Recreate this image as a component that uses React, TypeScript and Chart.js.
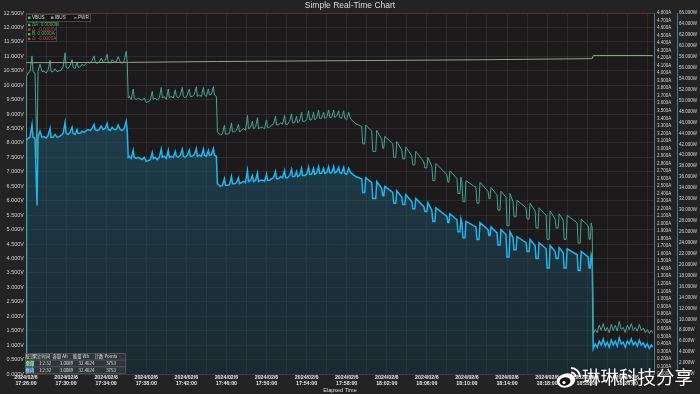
import { useEffect, useRef } from "react";
import { Chart, registerables } from "chart.js";

Chart.register(...registerables);

// ---------- text ----------
const CHART_TITLE = "Simple Real-Time Chart";
const X_TITLE = "Elapsed Time";
const DATE_LABEL = "2024/02/6";
const START_SECONDS = 17 * 3600 + 26 * 60; // 17:26:00
const SERIES_NAMES = ["VBUS", "IBUS", "PWR"];
const CURSOR_TEXTS = ["ΔA: 0.0000W", "Δ: -0.0000V", "B: 0.0000A", "Δ: -0.0000A"];
const STATS_HEADER = ["统计", "累计时间", "容量 Ah", "能量 Wh", "计数 Points"];
const STATS_ROWS = [
  ["全部", "1:2:32", "3.0089", "32.4624", "3753"],
  ["框内", "1:2:32", "3.0089", "32.4624", "3753"],
];
const WATERMARK = "琳琳科技分享";

// ---------- axes ----------
const X_MAX = 3760;
const X_GRID_STEP = 120;
const X_LABEL_STEP = 240;
const V_MAX = 12.5;
const V_STEP = 0.5;
const I_MAX = 4.8;
const I_STEP = 0.1;
const P_MAX = 66;
const P_STEP = 2;

// ---------- data (seconds since 17:26:00) ----------
const TIMES = [
  0, 3, 12, 24, 36, 42, 54, 66, 72, 84, 96, 108, 120, 132, 144, 150, 162, 174, 186, 198, 210, 222, 234, 240, 252, 264, 276, 282, 294, 306, 312, 324, 336, 348, 360, 372, 384, 396, 408, 414, 426, 438, 450, 462, 474, 486, 492, 504, 516, 528, 540, 552, 564, 576, 588, 600, 606,
  612, 618, 630, 642, 648, 660, 672, 684, 696, 708, 720, 732, 744, 756, 762, 774, 786, 798, 810, 816, 828, 840, 852, 858, 870, 882, 894, 900, 912, 924, 936, 942, 954, 966, 978, 984, 996, 1008, 1020, 1026, 1038, 1050, 1062, 1068, 1080, 1092, 1098, 1110, 1122, 1128, 1140,
  1146, 1152, 1164, 1176, 1188, 1194, 1206, 1218, 1230, 1236, 1248, 1260, 1272, 1278, 1290, 1302, 1314, 1326, 1332, 1344, 1356, 1362, 1374, 1386, 1392, 1404, 1416, 1428, 1440, 1446, 1458, 1470, 1482, 1494, 1500, 1512, 1524, 1536, 1548, 1554, 1566, 1578, 1590, 1596, 1608, 1620, 1626, 1638, 1650, 1656, 1668, 1680, 1692, 1698, 1710, 1722, 1728, 1740, 1752, 1758, 1770, 1782, 1788, 1800, 1812, 1818, 1830, 1842, 1848, 1860, 1872, 1878, 1890, 1902, 1908, 1920, 1932,
  1944, 1974, 2010, 2016, 2028, 2034, 2070, 2076, 2094, 2100, 2130, 2136, 2142, 2148, 2196, 2202, 2214, 2220, 2250, 2256, 2268, 2274, 2310, 2316, 2328, 2334, 2382, 2388, 2400, 2406, 2430, 2436, 2448, 2454, 2520, 2526, 2532, 2538, 2580, 2586, 2598, 2604, 2610, 2616, 2628, 2634, 2694, 2700, 2712, 2718, 2766, 2772, 2778, 2784, 2820, 2826, 2838, 2844, 2874, 2880, 2892, 2898, 2916, 2922, 2934, 2940, 2994, 3000, 3012, 3018, 3048, 3054, 3066, 3072, 3114, 3120, 3132, 3138, 3168, 3174, 3186, 3192, 3216, 3222, 3234, 3240, 3300, 3306, 3318, 3324, 3366, 3372, 3378, 3384, 3390,
  3396, 3408, 3420, 3432, 3444, 3456, 3468, 3480, 3492, 3504, 3516, 3528, 3540, 3552, 3564, 3576, 3588, 3600, 3612, 3624, 3636, 3648, 3660, 3672, 3684, 3696, 3708, 3720, 3732, 3744, 3752,
];

const PWR = [
  0, 42.7, 43.1, 43.3, 45.6, 43.3, 43.1, 30.8, 43.3, 44.4, 43.3, 43.4, 43.1, 43.6, 44.9, 43.3, 43.3, 43.8, 43.3, 43.4, 43.6, 44.0, 46.0, 44.0, 43.8, 44.2, 45.1, 44.0, 43.8, 44.7, 44.0, 44.0, 44.4, 44.2, 44.5, 44.7, 44.5, 44.9, 45.6, 44.7, 44.5, 44.7, 45.3, 44.7, 44.9, 45.8, 44.7, 44.5, 45.1, 44.7, 44.7, 45.5, 44.7, 44.5, 44.9, 46.2, 44.7,
  39.6, 39.8, 39.4, 40.9, 39.6, 39.4, 39.6, 39.4, 39.2, 39.6, 38.9, 39.0, 39.2, 40.5, 39.4, 39.6, 39.2, 39.6, 41.1, 39.6, 39.8, 39.4, 40.9, 39.6, 39.8, 39.6, 40.7, 39.8, 39.6, 40.0, 41.1, 39.8, 39.6, 40.0, 40.9, 39.8, 39.8, 40.1, 41.2, 39.8, 40.0, 39.8, 41.1, 40.0, 39.8, 40.9, 40.0, 40.1, 41.2, 40.0, 39.8,
  34.8, 34.6, 34.3, 34.5, 35.7, 34.5, 34.5, 34.6, 36.1, 34.8, 34.8, 35.0, 35.9, 34.8, 35.0, 35.2, 35.0, 37.2, 35.2, 35.4, 36.3, 35.2, 35.4, 36.8, 35.2, 35.4, 35.4, 35.2, 36.5, 35.4, 35.4, 35.7, 35.9, 37.0, 35.7, 35.7, 36.1, 35.9, 37.2, 35.9, 35.9, 36.3, 37.4, 36.1, 36.1, 37.0, 36.1, 36.3, 37.6, 36.3, 36.3, 36.5, 37.8, 36.5, 36.5, 37.6, 36.5, 36.7, 37.9, 36.7, 36.7, 37.6, 36.7, 36.8, 37.9, 36.8, 36.8, 37.9, 36.8, 37.0, 37.8, 36.8, 36.7, 37.8, 36.7, 36.5, 37.6,
  36.8, 36.1, 35.7, 33.2, 33.2, 35.9, 35.0, 32.1, 32.1, 35.2, 33.9, 32.6, 32.6, 34.3, 33.2, 31.2, 31.2, 33.5, 32.3, 31.0, 31.0, 32.8, 31.5, 30.2, 30.2, 32.1, 30.6, 29.7, 29.7, 31.3, 29.9, 27.9, 27.9, 30.4, 28.8, 27.7, 27.7, 29.3, 28.2, 26.0, 26.0, 28.4, 27.7, 24.9, 24.9, 27.9, 26.9, 24.6, 24.6, 27.7, 26.4, 25.3, 25.3, 26.9, 25.8, 23.6, 23.6, 26.4, 25.5, 21.4, 21.4, 26.0, 24.9, 22.7, 22.7, 25.1, 24.0, 22.4, 22.4, 24.6, 23.5, 21.1, 21.1, 24.0, 22.9, 19.4, 19.4, 23.5, 22.4, 21.1, 21.1, 23.1, 22.2, 19.4, 19.4, 22.9, 21.8, 18.9, 18.9, 22.4, 21.4, 19.4, 19.4, 21.8, 21.1,
  4.6, 5.5, 4.9, 6.0, 5.3, 6.4, 5.1, 5.8, 4.9, 6.2, 5.3, 6.0, 5.1, 6.6, 5.5, 5.8, 4.9, 6.0, 5.5, 6.4, 5.3, 5.8, 5.1, 6.2, 5.3, 5.7, 4.9, 5.5, 4.7, 5.3, 4.9,
];

const IBUS = [
  0, 3.96, 4.00, 4.02, 4.23, 4.02, 4.00, 2.86, 4.02, 4.12, 4.02, 4.03, 4.00, 4.04, 4.17, 4.02, 4.02, 4.06, 4.02, 4.03, 4.04, 4.08, 4.27, 4.08, 4.06, 4.10, 4.18, 4.08, 4.06, 4.15, 4.08, 4.08, 4.12, 4.10, 4.13, 4.15, 4.13, 4.17, 4.23, 4.15, 4.13, 4.15, 4.20, 4.15, 4.17, 4.25, 4.15, 4.13, 4.18, 4.15, 4.15, 4.22, 4.15, 4.13, 4.17, 4.29, 4.15,
  3.67, 3.69, 3.65, 3.79, 3.67, 3.65, 3.67, 3.65, 3.64, 3.67, 3.61, 3.62, 3.64, 3.76, 3.65, 3.67, 3.64, 3.67, 3.81, 3.67, 3.69, 3.65, 3.79, 3.67, 3.69, 3.67, 3.78, 3.69, 3.67, 3.71, 3.81, 3.69, 3.67, 3.71, 3.79, 3.69, 3.69, 3.72, 3.82, 3.69, 3.71, 3.69, 3.81, 3.71, 3.69, 3.79, 3.71, 3.72, 3.82, 3.71, 3.69,
  3.22, 3.20, 3.18, 3.19, 3.31, 3.19, 3.19, 3.20, 3.34, 3.22, 3.22, 3.24, 3.32, 3.22, 3.24, 3.26, 3.24, 3.44, 3.26, 3.28, 3.36, 3.26, 3.28, 3.41, 3.26, 3.28, 3.28, 3.26, 3.38, 3.28, 3.28, 3.31, 3.32, 3.43, 3.31, 3.31, 3.34, 3.32, 3.44, 3.32, 3.32, 3.36, 3.46, 3.34, 3.34, 3.43, 3.34, 3.36, 3.48, 3.36, 3.36, 3.38, 3.50, 3.38, 3.38, 3.48, 3.38, 3.40, 3.51, 3.40, 3.40, 3.48, 3.40, 3.41, 3.51, 3.41, 3.41, 3.51, 3.41, 3.43, 3.50, 3.41, 3.40, 3.50, 3.40, 3.38, 3.48,
  3.39, 3.33, 3.29, 3.06, 3.06, 3.31, 3.23, 2.96, 2.96, 3.24, 3.12, 3.00, 3.00, 3.16, 3.06, 2.88, 2.88, 3.09, 2.98, 2.86, 2.86, 3.02, 2.90, 2.78, 2.78, 2.96, 2.82, 2.74, 2.74, 2.88, 2.76, 2.57, 2.57, 2.80, 2.65, 2.55, 2.55, 2.70, 2.60, 2.40, 2.40, 2.62, 2.55, 2.29, 2.29, 2.57, 2.48, 2.27, 2.27, 2.55, 2.43, 2.33, 2.33, 2.48, 2.38, 2.18, 2.18, 2.43, 2.35, 1.97, 1.97, 2.40, 2.29, 2.09, 2.09, 2.31, 2.21, 2.06, 2.06, 2.27, 2.17, 1.94, 1.94, 2.21, 2.11, 1.79, 1.79, 2.17, 2.06, 1.94, 1.94, 2.13, 2.05, 1.79, 1.79, 2.11, 2.01, 1.74, 1.74, 2.06, 1.97, 1.79, 1.79, 2.01, 1.94,
  0.53, 0.59, 0.55, 0.65, 0.58, 0.67, 0.57, 0.62, 0.55, 0.66, 0.58, 0.65, 0.57, 0.70, 0.59, 0.62, 0.55, 0.65, 0.59, 0.67, 0.58, 0.62, 0.57, 0.66, 0.58, 0.61, 0.55, 0.59, 0.54, 0.58, 0.55,
];

const VBUS_TIMES = [0, 612, 1146, 1944, 2700, 3390, 3396, 3752];
const VBUS = [10.78, 10.79, 10.82, 10.85, 10.88, 10.92, 11.03, 11.03];

// ---------- styles ----------
const OUTER_BG = "#232323";
const PLOT_BG = "#1c1a1a";
const GRID = "rgba(255,255,255,0.075)";
const TICK_COLOR = "#d2d2d2";
const VBUS_COLOR = "#8ea58c";
const IBUS_COLOR = "#46a391";
const PWR_COLOR = "#1fb6f0";
const FONT = "'Liberation Sans', Arial, sans-serif";
const CJK = "'Noto Sans CJK SC', sans-serif";

const pad2 = (n: number) => (n < 10 ? "0" + n : "" + n);
const clock = (s: number) => {
  const t = START_SECONDS + Math.round(s);
  return `${pad2(Math.floor(t / 3600) % 24)}:${pad2(Math.floor(t / 60) % 60)}:${pad2(t % 60)}`;
};

const overlayPlugin = {
  id: "overlay",
  beforeDraw(chart: any) {
    const { ctx, chartArea: a, width, height } = chart;
    ctx.save();
    ctx.fillStyle = OUTER_BG;
    ctx.fillRect(0, 0, width, height);
    ctx.fillStyle = PLOT_BG;
    ctx.fillRect(a.left, a.top, a.right - a.left, a.bottom - a.top);
    ctx.restore();
  },
  afterDraw(chart: any) {
    const { ctx, chartArea: a } = chart;
    ctx.save();
    // top border
    ctx.strokeStyle = "#5a3232";
    ctx.lineWidth = 1;
    ctx.beginPath();
    ctx.moveTo(a.left, a.top + 0.5);
    ctx.lineTo(a.right, a.top + 0.5);
    ctx.stroke();

    // title
    ctx.fillStyle = "#dcdcdc";
    ctx.font = `8.5px ${FONT}`;
    ctx.textAlign = "center";
    ctx.textBaseline = "middle";
    ctx.fillText(CHART_TITLE, 350, 6);

    // series legend box
    ctx.fillStyle = "rgba(22,22,22,0.9)";
    ctx.fillRect(a.left, a.top + 1, 64, 7);
    ctx.strokeStyle = "#444";
    ctx.strokeRect(a.left + 0.5, a.top + 1.5, 64, 7);
    ctx.font = `4.6px ${FONT}`;
    ctx.textAlign = "left";
    const legendColors = ["#4fbf7a", "#8a9a8a", "#d8d8d8"];
    const legendX = [a.left + 2, a.left + 25, a.left + 48];
    SERIES_NAMES.forEach((name, i) => {
      ctx.fillStyle = legendColors[i];
      if (i < 2) ctx.fillRect(legendX[i], a.top + 3.5, 2.5, 2.5);
      else ctx.fillRect(legendX[i], a.top + 4.5, 2.5, 0.8);
      ctx.fillStyle = "#d8d8d8";
      ctx.fillText(name, legendX[i] + 4, a.top + 5);
    });

    // cursor readout box
    ctx.fillStyle = "rgba(22,22,22,0.9)";
    ctx.fillRect(a.left, a.top + 9, 30, 19);
    ctx.strokeStyle = "#444";
    ctx.strokeRect(a.left + 0.5, a.top + 9.5, 30, 19);
    const cursorColors = ["#3fbf6a", "#d04848", "#3fbf6a", "#d04848"];
    CURSOR_TEXTS.forEach((txt, i) => {
      const y = a.top + 12 + i * 4.6;
      ctx.fillStyle = cursorColors[i];
      ctx.fillRect(a.left + 2, y - 1.2, 2.4, 2.4);
      ctx.fillText(txt, a.left + 6, y);
    });

    // stats table
    const tx = 25, ty = 353, tw = 100, rh = 6.6;
    ctx.fillStyle = "rgba(50,56,58,0.88)";
    ctx.fillRect(tx, ty, tw, rh * 3);
    ctx.strokeStyle = "#6a6a6a";
    ctx.lineWidth = 0.6;
    ctx.strokeRect(tx + 0.5, ty + 0.5, tw, rh * 3);
    for (let r = 1; r < 3; r++) {
      ctx.beginPath();
      ctx.moveTo(tx, ty + r * rh + 0.5);
      ctx.lineTo(tx + tw, ty + r * rh + 0.5);
      ctx.stroke();
    }
    ctx.fillStyle = "#3e9a44";
    ctx.fillRect(tx + 1, ty + rh + 1, 8, rh - 1);
    ctx.fillStyle = "#2f72c0";
    ctx.fillRect(tx + 1, ty + 2 * rh + 1, 8, rh - 1);
    ctx.font = `4.4px ${CJK}`;
    ctx.textAlign = "center";
    const headX = [30, 41.5, 60, 81, 106];
    const valX = [30, 45, 66.5, 86.5, 111];
    ctx.fillStyle = "#e0e0e0";
    STATS_HEADER.forEach((h, i) => ctx.fillText(h, headX[i], ty + rh / 2 + 0.5));
    STATS_ROWS.forEach((row, r) => {
      row.forEach((v, i) => ctx.fillText(v, valX[i], ty + rh * (r + 1.5) + 0.5));
    });

    // watermark
    ctx.shadowColor = "rgba(0,0,0,0.6)";
    ctx.shadowBlur = 2;
    ctx.fillStyle = "#ffffff";
    ctx.beginPath();
    ctx.ellipse(566, 380.5, 9.5, 7, -0.25, 0, Math.PI * 2);
    ctx.fill();
    ctx.shadowBlur = 0;
    ctx.fillStyle = "#141414";
    ctx.beginPath();
    ctx.ellipse(565, 381.5, 5.5, 4.2, -0.25, 0, Math.PI * 2);
    ctx.fill();
    ctx.fillStyle = "#ffffff";
    ctx.beginPath();
    ctx.arc(564, 382.5, 1.6, 0, Math.PI * 2);
    ctx.fill();
    ctx.strokeStyle = "#ffffff";
    ctx.lineWidth = 2;
    ctx.beginPath();
    ctx.arc(571, 377, 9, -Math.PI / 2, 0);
    ctx.stroke();
    ctx.beginPath();
    ctx.arc(571, 377, 4.5, -Math.PI / 2, 0);
    ctx.stroke();
    ctx.shadowBlur = 2;
    ctx.font = `18.5px ${CJK}`;
    ctx.textAlign = "left";
    ctx.textBaseline = "alphabetic";
    ctx.fillText(WATERMARK, 582, 384);
    ctx.restore();
  },
};

export default function App() {
  const ref = useRef<HTMLCanvasElement>(null);
  useEffect(() => {
    document.body.style.margin = "0";
    document.body.style.background = OUTER_BG;
    const canvas = ref.current;
    if (!canvas) return;
    const fillGradient = (c: any) => {
      const chart = c.chart;
      const a = chart.chartArea;
      if (!a) return "rgba(30,80,100,0.5)";
      const g = chart.ctx.createLinearGradient(0, a.top, 0, a.bottom);
      g.addColorStop(0, "rgba(32,100,130,0.6)");
      g.addColorStop(1, "rgba(26,62,78,0.45)");
      return g;
    };
    const chart = new Chart(canvas, {
      type: "line",
      data: {
        datasets: [
          {
            label: SERIES_NAMES[0],
            data: VBUS_TIMES.map((t, i) => ({ x: t, y: VBUS[i] })),
            yAxisID: "y",
            borderColor: VBUS_COLOR,
            borderWidth: 1,
            pointRadius: 0,
            fill: false,
          },
          {
            label: SERIES_NAMES[1],
            data: TIMES.map((t, i) => ({ x: t, y: IBUS[i] })),
            yAxisID: "yI",
            borderColor: IBUS_COLOR,
            borderWidth: 1,
            pointRadius: 0,
            fill: false,
          },
          {
            label: SERIES_NAMES[2],
            data: TIMES.map((t, i) => ({ x: t, y: PWR[i] })),
            yAxisID: "yP",
            borderColor: PWR_COLOR,
            borderWidth: 1.5,
            pointRadius: 0,
            fill: "origin",
            backgroundColor: fillGradient,
          },
        ],
      },
      options: {
        animation: false,
        responsive: false,
        maintainAspectRatio: false,
        layout: { padding: { top: 13, left: 0, right: 0, bottom: 0 } },
        plugins: {
          legend: { display: false },
          title: { display: false },
          tooltip: { enabled: false },
        },
        elements: { line: { tension: 0 } },
        scales: {
          x: {
            type: "linear",
            position: "bottom",
            min: 0,
            max: X_MAX,
            grid: { color: GRID, drawTicks: false },
            border: { color: "#3a3a3a" },
            ticks: {
              stepSize: X_GRID_STEP,
              autoSkip: false,
              includeBounds: false,
              maxRotation: 0,
              padding: 1,
              color: "#e6e6e6",
              font: { family: FONT, size: 5.3, lineHeight: 1.1, weight: "bold" },
              callback: (v: any) =>
                Number(v) % X_LABEL_STEP === 0 ? [DATE_LABEL, clock(Number(v))] : "",
            },
            title: {
              display: true,
              text: X_TITLE,
              color: "#dddddd",
              font: { family: FONT, size: 5.5 },
              padding: 0,
            },
            afterFit: (s: any) => {
              s.height = 20;
            },
          },
          y: {
            position: "left",
            min: 0,
            max: V_MAX,
            grid: { color: GRID, drawTicks: false },
            border: { color: "#3a3a3a" },
            ticks: {
              stepSize: V_STEP,
              autoSkip: false,
              includeBounds: false,
              padding: 2,
              color: TICK_COLOR,
              font: { family: FONT, size: 5.5 },
              callback: (v: any) => Number(v).toFixed(3) + "V",
            },
            afterFit: (s: any) => {
              s.width = 26;
            },
          },
          yI: {
            position: "right",
            min: 0,
            max: I_MAX,
            grid: { display: false, drawTicks: false },
            border: { color: "#4a8088" },
            ticks: {
              stepSize: I_STEP,
              autoSkip: false,
              includeBounds: false,
              padding: 3,
              color: TICK_COLOR,
              font: { family: FONT, size: 4.5 },
              callback: (v: any) => Number(v).toFixed(3) + "A",
            },
            afterFit: (s: any) => {
              s.width = 23;
            },
          },
          yP: {
            position: "right",
            min: 0,
            max: P_MAX,
            grid: { display: false, drawTicks: false },
            border: { color: "#3a7ea8" },
            ticks: {
              stepSize: P_STEP,
              autoSkip: false,
              includeBounds: false,
              padding: 2,
              color: TICK_COLOR,
              font: { family: FONT, size: 4.5 },
              callback: (v: any) => Number(v).toFixed(3) + "W",
            },
            afterFit: (s: any) => {
              s.width = 23;
            },
          },
        },
      } as any,
      plugins: [overlayPlugin],
    });
    return () => chart.destroy();
  }, []);
  return (
    <div style={{ width: 700, height: 394, background: OUTER_BG }}>
      <canvas ref={ref} width={700} height={394} style={{ display: "block", width: 700, height: 394 }} />
    </div>
  );
}
